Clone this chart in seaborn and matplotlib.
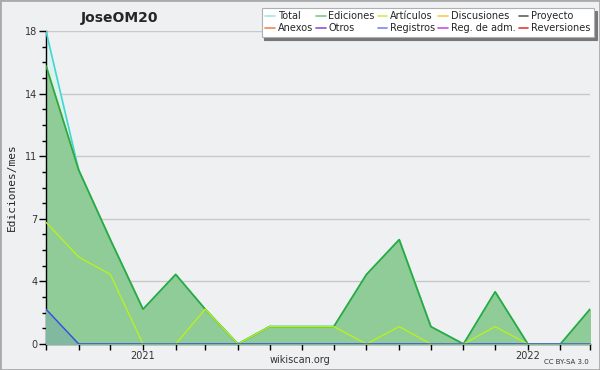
import pandas as pd
import numpy as np
import matplotlib
matplotlib.use("Agg")
import matplotlib.pyplot as plt
import matplotlib.patches as mpatches
from matplotlib.lines import Line2D
from matplotlib.ticker import FixedLocator, MultipleLocator
import seaborn as sns

# monthly edit counts, Oct 2020 - Mar 2022
months = pd.date_range("2020-10-01", "2022-03-01", freq="MS")
total = [18, 10, 6, 2, 4, 2, 0, 1, 1, 1, 4, 6, 1, 0, 3, 0, 0, 2]
ediciones = [16, 10, 6, 2, 4, 2, 0, 1, 1, 1, 4, 6, 1, 0, 3, 0, 0, 2]
articulos = [7, 5, 4, 0, 0, 2, 0, 1, 1, 1, 0, 1, 0, 0, 1, 0, 0, 0]
registros = [2, 0, 0, 0, 0, 0, 0, 0, 0, 0, 0, 0, 0, 0, 0, 0, 0, 0]

legend_names = ["Total", "Anexos", "Ediciones", "Otros", "Artículos", "Registros",
                "Discusiones", "Reg. de adm.", "Proyecto", "Reversiones"]
legend_colors = ["#a8e4e4", "#f08850", "#80c888", "#9050d8", "#c8f060", "#7888f0",
                 "#f8c850", "#c850e0", "#606060", "#e83838"]

df = pd.DataFrame({"mes": months, "Total": total, "Ediciones": ediciones,
                   "Artículos": articulos, "Registros": registros})

sns.set_style("white")
plt.rcParams['font.family'] = ['DejaVu Sans']

bg = "#eff0f2"
fig = plt.figure(figsize=(6, 3.7), dpi=100, facecolor=bg)
ax = fig.add_axes([46 / 600, 26 / 370, 544 / 600, 313 / 370])
ax.set_facecolor(bg)

x = df["mes"]
ax.fill_between(x, df["Total"], color="#dcf2ee", zorder=1)
ax.fill_between(x, df["Ediciones"], color="#90cc98", zorder=2)
ax.fill_between(x, df["Registros"], color="#80b8a0", zorder=3)

sns.lineplot(data=df, x="mes", y="Total", color="#40d8d0", lw=1.2, ax=ax, zorder=4)
sns.lineplot(data=df, x="mes", y="Ediciones", color="#30a838", lw=1.2, ax=ax, zorder=5)
sns.lineplot(data=df, x="mes", y="Artículos", color="#b8f020", lw=1.0, ax=ax, zorder=6)
sns.lineplot(data=df, x="mes", y="Registros", color="#3050e0", lw=1.0, ax=ax, zorder=7)

ax.set_xlim(months[0], months[-1])
ax.set_ylim(0, 18)

yt = [0, 3.6, 7.2, 10.8, 14.4, 18]
ax.yaxis.set_major_locator(FixedLocator(yt))
ax.set_yticklabels(["0", "4", "7", "11", "14", "18"])
ax.yaxis.set_minor_locator(MultipleLocator(0.9))
ax.grid(axis="y", which="major", color="#c8c8c8", lw=1)

ax.xaxis.set_minor_locator(FixedLocator(matplotlib.dates.date2num(months)))
ax.set_xticks([pd.Timestamp("2021-01-01"), pd.Timestamp("2022-01-01")])
ax.set_xticklabels(["2021", "2022"])

ax.tick_params(axis="both", which="both", direction="out", color="black",
               labelsize=7, labelcolor="#333333", pad=1, bottom=True, left=True)
ax.tick_params(axis="y", which="major", length=5, width=1)
ax.tick_params(axis="y", which="minor", length=3, width=1)
ax.tick_params(axis="x", which="both", length=4, width=1)
ax.tick_params(axis="x", which="major", pad=1)

for s in ["top", "right"]:
    ax.spines[s].set_visible(False)
for s in ["left", "bottom"]:
    ax.spines[s].set_color("black")
    ax.spines[s].set_linewidth(1)

ax.set_xlabel("")
ax.set_ylabel("Ediciones/mes", fontsize=8, family="DejaVu Sans Mono", labelpad=6)

fig.text(120 / 600, 1 - 18 / 370, "JoseOM20", ha="center", va="center",
         fontsize=10, fontweight="bold")
fig.text(300 / 600, 1 - 360 / 370, "wikiscan.org", ha="center", va="center",
         fontsize=7, color="#333333")
fig.text(589 / 600, 1 - 362 / 370, "CC BY-SA 3.0", ha="right", va="center",
         fontsize=5, color="#333333")

handles = [Line2D([0], [0], color=c, lw=1.2) for c in legend_colors]
leg = fig.legend(handles, legend_names, ncol=5, loc="upper right",
                 bbox_to_anchor=(594 / 600, 1 - 8 / 370), fontsize=7,
                 frameon=True, fancybox=False, shadow={"color": "#777777", "alpha": 1},
                 handlelength=1.0, handletextpad=0.3, columnspacing=0.3,
                 labelspacing=0.2, borderpad=0.35, borderaxespad=0)
leg.get_frame().set_edgecolor("#b0b0b0")
leg.get_frame().set_linewidth(0.8)

fig.patches.append(mpatches.Rectangle((0, 0), 1, 1, transform=fig.transFigure,
                                      fill=False, edgecolor="#aaaaaa", lw=2))

fig.savefig("out.png", dpi=100, facecolor=bg)
